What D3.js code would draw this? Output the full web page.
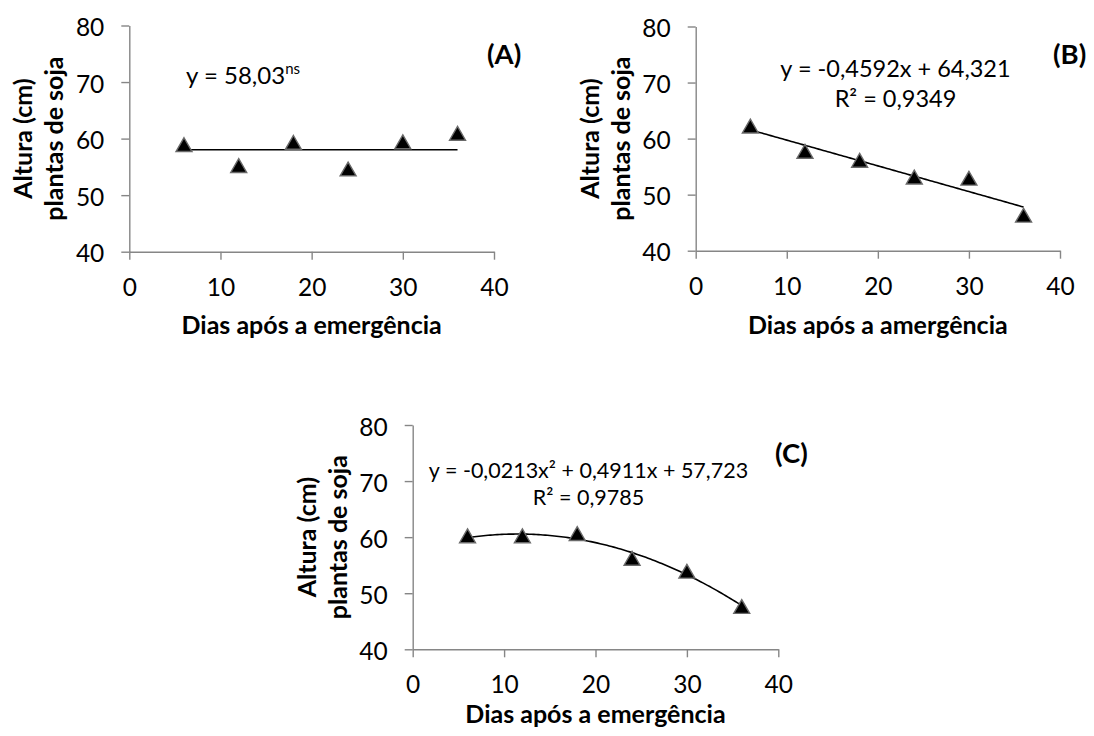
<!DOCTYPE html>
<html>
<head>
<meta charset="utf-8">
<script src="https://cdn.jsdelivr.net/npm/d3@7"></script>
<style>
  html, body { margin: 0; padding: 0; background: #ffffff; }
  svg { display: block; font-family: Lato, "Open Sans", sans-serif; }
</style>
</head>
<body>
<svg id="chart" width="1094" height="736"></svg>
<script>
// ---- data ----
const days = [6, 12, 18, 24, 30, 36];
const alturaA = [58.7, 55.0, 59.1, 54.4, 59.2, 60.7];
const alturaB = [62.0, 57.5, 55.9, 52.9, 52.7, 46.1];
const alturaC = [60.0, 60.0, 60.4, 56.0, 53.7, 47.4];
// regression coefficients printed on the figure (c0 + c1*x + c2*x^2)
const coefA = [58.03];
const coefB = [64.321, -0.4592];
const coefC = [57.723, 0.4911, -0.0213];
const xTicks = [0, 10, 20, 30, 40];
const yTicks = [40, 50, 60, 70, 80];
const xDomain = [0, 40];
const yDomain = [40, 80];
const yTitle = ["Altura (cm)", "plantas de soja"];
const xTitles = ["Dias após a emergência", "Dias após a amergência", "Dias após a emergência"];
const panelLabels = ["(A)", "(B)", "(C)"];

// ---- layout ----
const svg = d3.select("#chart");
const AXIS = "#868686";
const TICK_FS = 24.5, TITLE_FS = 25, LABEL_FS = 27.5;
const layouts = [
  { x0: 129.3, x1: 494,   yt: 25.5, yb: 251.7, xTitleY: 334, lab: [487, 64],
    eq: { anchor: "start", x: 186, ys: [84], size: 24 } },
  { x0: 695.7, x1: 1060,  yt: 26.5, yb: 250.7, xTitleY: 334, lab: [1053, 64],
    eq: { anchor: "middle", x: 895.5, ys: [77, 107], size: 23.5 } },
  { x0: 412.7, x1: 778.3, yt: 425,  yb: 649.3, xTitleY: 723, lab: [775, 463],
    eq: { anchor: "middle", x: 588.5, ys: [478, 505], size: 21.5 } }
];

function trendValue(coef, xv) {
  return coef.reduce((s, c, i) => s + c * Math.pow(xv, i), 0);
}

function drawPanel(L, values, coef, eqBuilder, xTitle, label) {
  const x = d3.scaleLinear().domain(xDomain).range([L.x0, L.x1]);
  const y = d3.scaleLinear().domain(yDomain).range([L.yb, L.yt]);
  const g = svg.append("g");

  // x axis
  const gx = g.append("g")
    .attr("transform", `translate(0,${L.yb})`)
    .call(d3.axisBottom(x).tickValues(xTicks).tickSize(8).tickSizeOuter(0));
  gx.select(".domain").attr("stroke", AXIS).attr("stroke-width", 1.4);
  gx.selectAll(".tick line").attr("stroke", AXIS).attr("stroke-width", 1.4);
  gx.selectAll(".tick text")
    .attr("y", 44).attr("dy", 0)
    .attr("fill", "#000").attr("font-size", TICK_FS).attr("font-family", "Lato");

  // y axis
  const gy = g.append("g")
    .attr("transform", `translate(${L.x0},0)`)
    .call(d3.axisLeft(y).tickValues(yTicks).tickSize(8).tickSizeOuter(0));
  gy.select(".domain").attr("stroke", AXIS).attr("stroke-width", 1.4);
  gy.selectAll(".tick line").attr("stroke", AXIS).attr("stroke-width", 1.4);
  gy.selectAll(".tick text")
    .attr("x", -25).attr("dy", "0.42em")
    .attr("fill", "#000").attr("font-size", TICK_FS).attr("font-family", "Lato");

  // axis titles
  g.append("text")
    .attr("x", (L.x0 + L.x1) / 2).attr("y", L.xTitleY)
    .attr("text-anchor", "middle").attr("font-weight", "bold").attr("font-size", TITLE_FS)
    .text(xTitle);
  const cy = (L.yt + L.yb) / 2;
  [-97, -66].forEach((off, i) => {
    g.append("text")
      .attr("transform", `translate(${L.x0 + off},${cy}) rotate(-90)`)
      .attr("text-anchor", "middle").attr("font-weight", "bold").attr("font-size", TITLE_FS)
      .text(yTitle[i]);
  });

  // trend line (from the printed equation)
  const xs = d3.range(days[0], days[days.length - 1] + 0.001, 0.25);
  g.append("path")
    .datum(xs)
    .attr("fill", "none").attr("stroke", "#000").attr("stroke-width", 1.6)
    .attr("d", d3.line().x(d => x(d)).y(d => y(trendValue(coef, d))));

  // markers
  const tri = d3.symbol().type(d3.symbolTriangle).size(110);
  g.selectAll("path.pt")
    .data(days.map((d, i) => [d, values[i]]))
    .join("path")
    .attr("class", "pt")
    .attr("d", tri)
    .attr("transform", d => `translate(${x(d[0])},${y(d[1]) + 1})`)
    .attr("fill", "#000").attr("stroke", "#6a6a6a").attr("stroke-width", 1.4);

  // equation
  eqBuilder(g, L.eq);

  // panel label
  g.append("text")
    .attr("x", L.lab[0]).attr("y", L.lab[1])
    .attr("font-weight", "bold").attr("font-size", LABEL_FS)
    .text(label);
}

function fmt(v, d) { return v.toFixed(d).replace(".", ","); }

const eqA = (g, E) => {
  const t = g.append("text").attr("x", E.x).attr("y", E.ys[0])
    .attr("text-anchor", E.anchor).attr("font-size", E.size);
  t.append("tspan").text("y = " + fmt(coefA[0], 2));
  t.append("tspan").attr("font-size", 15).attr("dy", -10).text("ns");
};
const eqB = (g, E) => {
  const lines = [
    "y = " + fmt(coefB[1], 4) + "x + " + fmt(coefB[0], 3),
    "R² = 0,9349"
  ];
  lines.forEach((s, i) => g.append("text").attr("x", E.x).attr("y", E.ys[i])
    .attr("text-anchor", E.anchor).attr("font-size", E.size).text(s));
};
const eqC = (g, E) => {
  const lines = [
    "y = " + fmt(coefC[2], 4) + "x² + " + fmt(coefC[1], 4) + "x + " + fmt(coefC[0], 3),
    "R² = 0,9785"
  ];
  lines.forEach((s, i) => g.append("text").attr("x", E.x).attr("y", E.ys[i])
    .attr("text-anchor", E.anchor).attr("font-size", E.size).text(s));
};

drawPanel(layouts[0], alturaA, coefA, eqA, xTitles[0], panelLabels[0]);
drawPanel(layouts[1], alturaB, coefB, eqB, xTitles[1], panelLabels[1]);
drawPanel(layouts[2], alturaC, coefC, eqC, xTitles[2], panelLabels[2]);
</script>
</body>
</html>
